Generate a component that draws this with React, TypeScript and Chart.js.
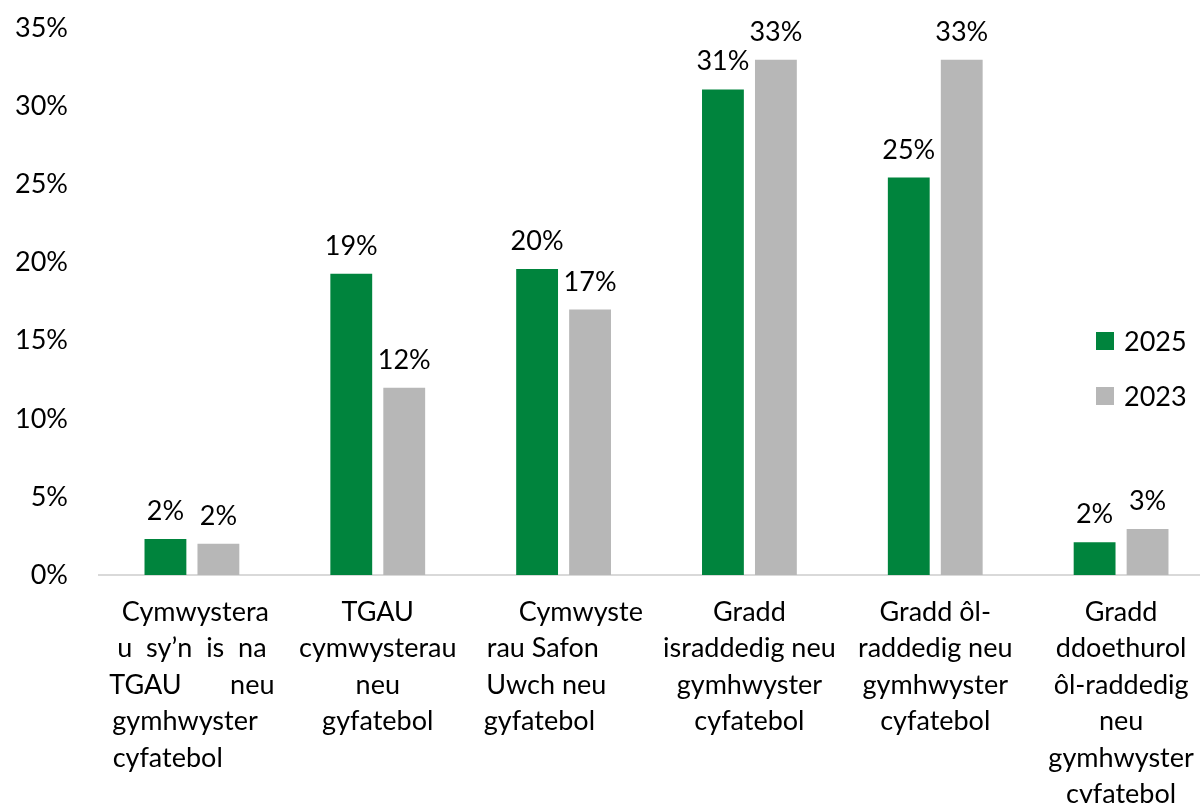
import React, { useEffect, useRef } from 'react';
import { Chart, registerables } from 'chart.js';

Chart.register(...registerables);

const categories: string[][] = [
  [' Cymwystera', 'u  sy’n  is  na', 'TGAU       neu', 'gymhwyster  ', 'cyfatebol       '],
  ['TGAU', 'cymwysterau', 'neu', 'gyfatebol'],
  ['     Cymwyste', 'rau Safon      ', 'Uwch neu     ', 'gyfatebol       '],
  ['Gradd', 'israddedig neu', 'gymhwyster', 'cyfatebol'],
  ['Gradd ôl-', 'raddedig neu', 'gymhwyster', 'cyfatebol'],
  ['Gradd', 'ddoethurol', 'ôl-raddedig', 'neu', 'gymhwyster', 'cyfatebol'],
];
const seriesNames = ['2025', '2023'];
const values2025 = [2.3, 19.3, 19.6, 31.1, 25.45, 2.1];
const values2023 = [2.0, 12.0, 17.0, 33.0, 33.0, 2.95];
const seriesColors = ['#00843D', '#B7B7B7'];

const FONT = 'Lato';
const FONT_SIZE = 27;

const dataLabelPlugin = {
  id: 'dataLabels',
  afterDatasetsDraw(chart: any) {
    const ctx = chart.ctx;
    ctx.save();
    ctx.font = `${FONT_SIZE}px ${FONT}`;
    ctx.fillStyle = '#000';
    ctx.textAlign = 'center';
    ctx.textBaseline = 'alphabetic';
    chart.data.datasets.forEach((ds: any, i: number) => {
      const meta = chart.getDatasetMeta(i);
      meta.data.forEach((bar: any, j: number) => {
        const v = ds.data[j] as number;
        ctx.fillText(Math.round(v) + '%', bar.x, bar.y - 19);
      });
    });
    ctx.restore();
  },
};

const legendPlugin = {
  id: 'customLegend',
  afterDraw(chart: any) {
    const ctx = chart.ctx;
    ctx.save();
    ctx.font = `${FONT_SIZE}px ${FONT}`;
    ctx.textAlign = 'left';
    ctx.textBaseline = 'middle';
    chart.data.datasets.forEach((ds: any, i: number) => {
      const cy = 341 + i * 55;
      ctx.fillStyle = ds.backgroundColor;
      ctx.fillRect(1096, cy - 9, 18, 18);
      ctx.fillStyle = '#000';
      ctx.fillText(ds.label, 1124, cy + 1);
    });
    ctx.restore();
  },
};

export default function App() {
  const canvasRef = useRef<HTMLCanvasElement | null>(null);

  useEffect(() => {
    if (!canvasRef.current) return;
    const chart = new Chart(canvasRef.current, {
      type: 'bar',
      data: {
        labels: categories,
        datasets: [
          { label: seriesNames[0], data: values2025, backgroundColor: seriesColors[0] },
          { label: seriesNames[1], data: values2023, backgroundColor: seriesColors[1] },
        ],
      },
      options: {
        responsive: false,
        animation: false,
        devicePixelRatio: 1,
        datasets: { bar: { categoryPercentage: 0.57, barPercentage: 0.79 } },
        layout: { padding: { top: 0, left: 0, right: 0, bottom: 0 } },
        plugins: { legend: { display: false }, tooltip: { enabled: false } },
        scales: {
          x: {
            grid: { display: false, drawTicks: false },
            border: { display: true, color: '#D9D9D9', width: 2 },
            ticks: {
              color: '#000',
              font: { family: FONT, size: FONT_SIZE, lineHeight: 1.35 },
              padding: 19,
              maxRotation: 0,
              minRotation: 0,
              autoSkip: false,
            },
            afterFit: (scale: any) => {
              scale.height = 228;
            },
          },
          y: {
            min: 0,
            max: 35,
            grid: { display: false, drawTicks: false },
            border: { display: false },
            ticks: {
              stepSize: 5,
              color: '#000',
              font: { family: FONT, size: FONT_SIZE },
              padding: 31,
              callback: (v: any) => v + '%',
            },
            afterFit: (scale: any) => {
              scale.width = 99;
              scale.paddingTop = 28.5;
              scale.paddingBottom = 0;
            },
          },
        },
      },
      plugins: [dataLabelPlugin, legendPlugin],
    });
    return () => chart.destroy();
  }, []);

  return (
    <div
      style={{
        position: 'absolute',
        left: 0,
        top: 0,
        width: 1200,
        height: 803,
        overflow: 'hidden',
        background: '#fff',
      }}
    >
      <canvas ref={canvasRef} width={1214} height={803} style={{ width: 1214, height: 803, display: 'block' }} />
    </div>
  );
}
